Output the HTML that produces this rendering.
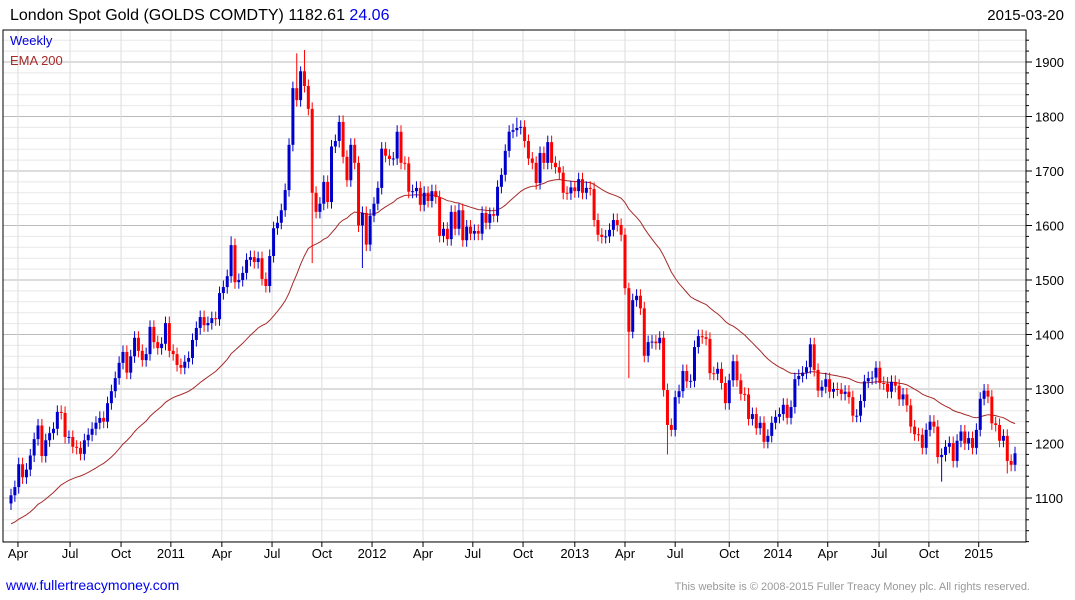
<!DOCTYPE html>
<html><head><meta charset="utf-8"><style>
html,body{margin:0;padding:0;background:#fff;width:1075px;height:600px;overflow:hidden;font-family:"Liberation Sans",Arial,sans-serif}
</style></head><body>
<svg id="chart" width="1075" height="600" xmlns="http://www.w3.org/2000/svg" font-family="Liberation Sans, Arial, sans-serif">
<text x="10" y="20" font-size="16" fill="#000">London Spot Gold (GOLDS COMDTY) 1182.61 <tspan fill="#0000ee">24.06</tspan></text>
<text x="1064" y="20" font-size="15" text-anchor="end" fill="#000">2015-03-20</text>
<g id="grid"></g>
<g id="ema"></g>
<g id="candles"></g>
<rect x="3" y="30" width="1023" height="512" fill="none" stroke="#000" stroke-width="1"/>
<g id="axes"></g>
<text x="10" y="45" font-size="13" fill="#0000dd">Weekly</text>
<text x="10" y="65" font-size="13" fill="#a52a2a">EMA 200</text>
<text x="6" y="590" font-size="14" fill="#0000ee">www.fullertreacymoney.com</text>
<text x="1030" y="590" font-size="11" text-anchor="end" fill="#999">This website is © 2008-2015 Fuller Treacy Money plc. All rights reserved.</text>
</svg>
<script>
const closes=[1105,1120,1162,1138,1152,1178,1208,1233,1177,1206,
1219,1227,1258,1256,1212,1212,1194,1192,1181,1206,
1216,1227,1238,1247,1240,1274,1296,1320,1348,1368,
1330,1360,1394,1370,1353,1364,1414,1386,1375,1383,
1421,1370,1364,1344,1339,1350,1357,1390,1412,1432,
1417,1421,1430,1428,1476,1487,1507,1564,1496,1500,
1513,1537,1542,1533,1540,1502,1489,1544,
1595,1605,1628,1665,1748,1852,1830,1883,1856,1814,
1660,1625,1640,1680,1643,1745,1755,1790,1726,1683,
1748,1715,1600,1623,1565,1618,1640,1669,1741,1728,
1722,1723,1772,1715,1714,1662,1663,1669,1638,1660,
1645,1663,1652,1581,1594,1575,1625,1594,1628,1573,
1598,1585,1590,1585,1623,1605,1621,1618,1671,1693,
1737,1772,1775,1779,1781,1755,1723,1715,1678,1733,
1715,1753,1715,1707,1697,1660,1659,
1670,1663,1685,1660,1669,1667,1610,1583,1579,1580,
1592,1610,1601,1583,1485,1405,1463,1471,1448,1361,
1386,1387,1384,1394,1298,1234,1225,1285,1296,1333,
1314,1315,1377,1397,1395,1392,1329,1328,1337,1311,
1274,1316,1351,1316,1291,1290,1245,1254,1228,1238,
1203,1214,1238,1249,1254,1271,1247,1267,
1318,1324,1330,1340,1382,1335,1297,1304,1318,1295,
1300,1299,1291,1295,1285,1251,1251,1278,1314,1320,
1321,1339,1311,1310,1295,1313,1306,1281,1290,1270,
1231,1217,1216,1192,1225,1240,1231,1175,1179,1194,
1201,1168,1205,1222,1200,1210,1192,1225,1282,1297,
1286,1237,1234,1205,1214,1168,1161,1182];
const firstOpen=1090;
const wickHigh={74:1916,75:1892,76:1922,57:1580,131:1798,160:1495};
const wickLow={78:1531,91:1522,160:1320,170:1180,241:1130,258:1145};
const emaSeed=1050;
const yTicks=[1100,1200,1300,1400,1500,1600,1700,1800,1900];
const xLabels=["Apr","Jul","Oct","2011","Apr","Jul","Oct","2012","Apr","Jul","Oct","2013","Apr","Jul","Oct","2014","Apr","Jul","Oct","2015"];
const xLabelWeeks=[1.8,15.3,28.5,41.4,54.6,67.6,80.5,93.5,106.7,119.6,132.6,146,159,172,186,198.6,211.5,224.8,237.7,250.6];

const NS="http://www.w3.org/2000/svg";
const X0=11,DX=(1015-11)/(closes.length-1);
const xs=i=>X0+i*DX;
const ys=p=>498-(p-1100)*0.545;
function mk(tag,attrs,parent){const e=document.createElementNS(NS,tag);for(const k in attrs)e.setAttribute(k,attrs[k]);parent.appendChild(e);return e;}
const grid=document.getElementById('grid'),axes=document.getElementById('axes');
for(let p=1020;p<=1960;p+=20){const y=ys(p);if(y<30||y>542)continue;
 const major=p%100===0;
 const l=mk('line',{x1:3,x2:1026,y1:y,y2:y,stroke:major?'#bbb':'#e8e8e8','stroke-width':1},grid);
 
 
 const t=mk('line',{x1:1026,x2:major?1032:1029,y1:y,y2:y,stroke:'#000'},axes);
 
 
}
yTicks.forEach(v=>{const t=mk('text',{x:1035,y:ys(v)+5,'font-size':13,fill:'#000'},axes);t.textContent=v;
 
 });
xLabels.forEach((s,i)=>{const x=xs(xLabelWeeks[i]);
 const g=mk('line',{x1:x,x2:x,y1:30,y2:542,stroke:'#ddd'},grid);
 
 
 const tk=mk('line',{x1:x,x2:x,y1:542,y2:547,stroke:'#000'},axes);
 
 
 const t=mk('text',{x:x,y:558,'font-size':13,'text-anchor':'middle',fill:'#000'},axes);t.textContent=s;
 
 });
const a=2/41;let e=emaSeed,pts=[];
closes.forEach((c,i)=>{e=e+a*(c-e);pts.push(xs(i).toFixed(1)+','+ys(e).toFixed(1));});
const pl=mk('polyline',{points:pts.join(' '),fill:'none',stroke:'#a52a2a','stroke-width':1},document.getElementById('ema'));


const cg=document.getElementById('candles');
closes.forEach((c,i)=>{
 const o=i===0?firstOpen:closes[i-1];
 const up=c>=o;const col=up?'#0000cc':'#ff0000';
 const hi=wickHigh[i]!==undefined?wickHigh[i]:Math.max(o,c)+12;
 const lo=wickLow[i]!==undefined?wickLow[i]:Math.min(o,c)-12;
 const x=xs(i);
 const w=mk('line',{x1:x,x2:x,y1:ys(hi),y2:ys(lo),stroke:col,'stroke-width':1},cg);
 
 
 const top=ys(Math.max(o,c)),h=Math.max(1,ys(Math.min(o,c))-top);
 const b=mk('rect',{x:x-1.5,y:top,width:3,height:h,fill:col},cg);
 
 
});
</script>
</body></html>
